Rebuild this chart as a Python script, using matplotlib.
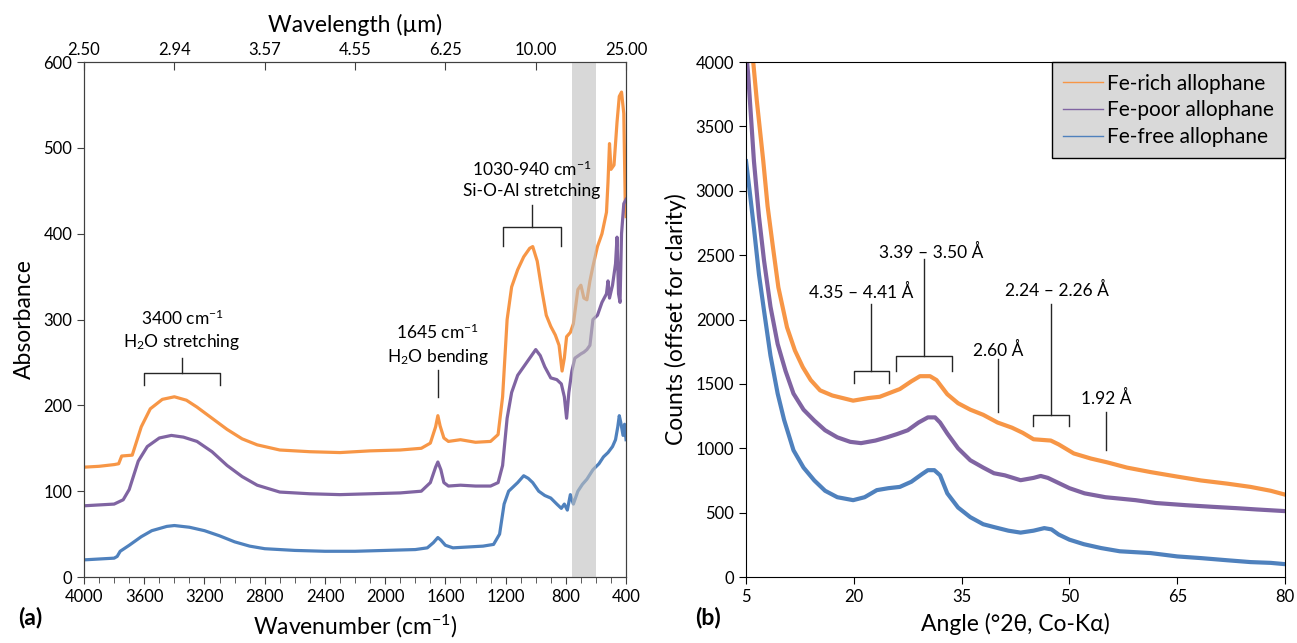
import numpy as np
import matplotlib.pyplot as plt

plt.rcParams['font.family'] = ['Lato', 'DejaVu Sans']
plt.rcParams['mathtext.fontset'] = 'custom'
plt.rcParams['mathtext.rm'] = 'Lato'
plt.rcParams['mathtext.it'] = 'Lato:italic'
plt.rcParams['mathtext.bf'] = 'Lato:bold'

# ---- (a) FTIR spectra: wavenumber (cm-1) / absorbance ----
wn_rich = [4000, 3900, 3800, 3770, 3750, 3680, 3620, 3560, 3480, 3400, 3320, 3250, 3150,
           3050, 2950, 2850, 2700, 2500, 2300, 2100, 1900, 1760, 1700, 1665, 1650, 1635,
           1610, 1580, 1500, 1400, 1300, 1250, 1220, 1190, 1160, 1120, 1080, 1040, 1020,
           990, 960, 930, 900, 870, 845, 825, 810, 795, 770, 750, 720, 700, 680, 660, 640,
           620, 590, 560, 530, 520, 510, 500, 480, 460, 445, 430, 415, 405, 400]
abs_rich = [128, 129, 131, 132, 141, 142, 175, 196, 207, 210, 206, 198, 185,
            172, 161, 154, 148, 146, 145, 147, 148, 150, 156, 175, 188, 176,
            162, 158, 160, 157, 158, 166, 210, 300, 338, 358, 373, 383, 385,
            368, 335, 305, 292, 282, 270, 240, 255, 280, 285, 295, 335, 340, 325, 323, 345,
            362, 385, 400, 425, 460, 505, 475, 480, 530, 560, 565, 540, 430, 420]

wn_poor = [4000, 3900, 3800, 3740, 3700, 3640, 3580, 3500, 3420, 3340, 3250, 3150, 3050,
           2950, 2850, 2700, 2500, 2300, 2100, 1900, 1760, 1700, 1665, 1650, 1630, 1610,
           1580, 1500, 1400, 1300, 1250, 1220, 1190, 1160, 1120, 1060, 1000, 970, 940, 900,
           860, 830, 810, 795, 780, 760, 740, 700, 680, 660, 640, 620, 590, 560, 530, 520,
           510, 490, 470, 460, 450, 440, 430, 415, 400]
abs_poor = [83, 84, 85, 90, 102, 135, 152, 162, 165, 163, 158, 146, 130,
            117, 107, 99, 97, 96, 97, 98, 100, 110, 128, 134, 125, 110,
            106, 107, 106, 106, 110, 130, 185, 215, 235, 250, 265, 258, 245, 232,
            230, 225, 210, 185, 215, 240, 255, 260, 262, 265, 270, 300, 305, 320, 330, 345,
            325, 340, 365, 396, 330, 320, 400, 435, 440]

wn_free = [4000, 3900, 3800, 3780, 3760, 3700, 3620, 3550, 3450, 3400, 3300, 3200, 3100,
           3000, 2900, 2800, 2600, 2400, 2200, 2000, 1800, 1720, 1680, 1650, 1630, 1600,
           1550, 1450, 1350, 1280, 1240, 1210, 1180, 1120, 1080, 1050, 1020, 980, 940, 900,
           860, 830, 810, 790, 770, 750, 720, 690, 660, 620, 580, 550, 520, 490, 470, 455,
           445, 435, 420, 410, 400]
abs_free = [20, 21, 22, 24, 30, 37, 47, 54, 59, 60, 58, 54, 48,
            41, 36, 33, 31, 30, 30, 31, 32, 34, 40, 46, 43, 37,
            34, 35, 36, 38, 50, 85, 100, 110, 118, 115, 110, 100, 95, 92,
            85, 80, 85, 78, 96, 85, 100, 108, 114, 125, 132, 140, 145, 152, 160, 175,
            188, 180, 165, 178, 160]

wn_ticks = [4000, 3600, 3200, 2800, 2400, 2000, 1600, 1200, 800, 400]
wl_ticks = [4000, 3400, 2800, 2200, 1600, 1000, 400]
band_lo, band_hi = 600, 760

# ---- (b) XRD patterns: angle (deg 2theta) / counts ----
tt_rich = [5.6, 6.0, 6.5, 7.4, 8.0, 8.75, 9.5, 10.7, 11.8, 12.9, 14.0, 15.3, 17.0, 19.9,
           22.0, 23.6, 25.0, 26.4, 28.0, 29.2, 30.6, 31.5, 33.0, 34.5, 36.2, 38.0, 40.0,
           42.0, 43.5, 45.0, 47.4, 48.5, 50.6, 53.0, 55.3, 58.0, 61.3, 65.0, 68.3, 72.0,
           75.2, 78.0, 80.0]
cnt_rich = [4400, 4000, 3700, 3230, 2880, 2560, 2250, 1940, 1760, 1630, 1530, 1450, 1410, 1370,
            1390, 1400, 1430, 1460, 1520, 1560, 1560, 1530, 1420, 1350, 1300, 1260, 1200,
            1160, 1120, 1070, 1060, 1030, 960, 920, 890, 850, 815, 780, 750, 725,
            700, 670, 640]

tt_poor = [5.0, 5.3, 6.1, 6.8, 7.5, 8.4, 9.4, 10.5, 11.6, 13.0, 14.5, 16.0, 17.7, 19.5,
           21.0, 23.0, 24.6, 26.0, 27.5, 29.0, 30.3, 31.3, 32.0, 33.0, 34.5, 36.2, 38.0,
           39.5, 41.0, 43.2, 45.0, 46.0, 47.0, 48.5, 50.0, 52.1, 55.0, 59.2, 62.0, 66.2,
           70.0, 73.2, 76.0, 80.0]
cnt_poor = [4100, 3900, 3230, 2800, 2460, 2100, 1810, 1600, 1425, 1300, 1215, 1140, 1085, 1050,
            1040, 1060, 1085, 1110, 1140, 1200, 1240, 1240, 1200, 1115, 1000, 907, 850,
            806, 790, 752, 770, 785, 770, 730, 690, 650, 620, 597, 575, 558,
            545, 535, 525, 512]

tt_free = [5.0, 5.5, 6.1, 6.8, 7.5, 8.4, 9.4, 10.3, 11.6, 13.0, 14.5, 16.0, 17.7, 19.9,
           21.5, 23.2, 24.8, 26.4, 28.0, 29.5, 30.3, 31.2, 32.0, 33.0, 34.5, 36.2, 38.0,
           39.5, 41.5, 43.2, 45.0, 46.5, 47.5, 48.5, 50.0, 52.0, 54.4, 57.0, 61.3, 65.0,
           68.3, 72.0, 75.2, 78.0, 80.0]
cnt_free = [3230, 3000, 2710, 2350, 2070, 1720, 1425, 1220, 985, 850, 750, 670, 620, 597,
            620, 675, 690, 700, 740, 800, 830, 830, 790, 650, 540, 465, 410,
            388, 360, 345, 360, 380, 370, 330, 290, 255, 225, 200, 186, 160,
            147, 130, 116, 110, 100]

labels = ['Fe-rich allophane', 'Fe-poor allophane', 'Fe-free allophane']
colors = ['#F79646', '#8064A2', '#4F81BD']

fig = plt.figure(figsize=(12.97, 6.43), dpi=100)
ax = fig.add_axes([0.0648, 0.1026, 0.4179, 0.8009])
bx = fig.add_axes([0.5752, 0.1026, 0.4156, 0.8009])

LAB = 16.5
ANN = 12.5


def bracket(a, x0, x1, y, drop, xc, top, lw=1.0):
    a.plot([x0, x0, x1, x1], [y - drop, y, y, y - drop], color='#262626', lw=lw, zorder=4)
    a.plot([xc, xc], [y, top], color='#262626', lw=lw, zorder=4)


# ---------------- panel (a) ----------------
ax.plot(wn_rich, abs_rich, color=colors[0], lw=2.3)
ax.plot(wn_poor, abs_poor, color=colors[1], lw=2.3)
ax.plot(wn_free, abs_free, color=colors[2], lw=2.3)
ax.axvspan(band_lo, band_hi, facecolor='#bfbfbf', alpha=0.6, lw=0, zorder=3)

ax.set_xlim(4000, 400)
ax.set_ylim(0, 600)
ax.set_xticks(wn_ticks)
ax.set_xticks(np.arange(400, 4001, 100), minor=True)
ax.set_yticks(np.arange(0, 601, 100))
ax.tick_params(axis='both', labelsize=12, direction='out', length=5, color='#404040')
ax.tick_params(axis='x', which='minor', direction='out', length=4, color='#404040')
ax.set_xlabel('Wavenumber (cm$^{-1}$)', fontsize=LAB, labelpad=6)
ax.set_ylabel('Absorbance', fontsize=LAB, labelpad=6)
for s in ax.spines.values():
    s.set_color('#404040')

top = ax.twiny()
top.set_xlim(ax.get_xlim())
top.set_xticks(wl_ticks)
top.set_xticklabels(['%.2f' % (10000.0 / w) for w in wl_ticks])
top.tick_params(axis='x', labelsize=12, direction='in', length=6, color='#404040', pad=3)
top.set_xlabel('Wavelength (\u00b5m)', fontsize=LAB, labelpad=7)
for s in top.spines.values():
    s.set_color('#404040')

bracket(ax, 3600, 3100, 238, 14, 3350, 255)
ax.text(3350, 262, '3400 cm$^{-1}$\nH$_2$O stretching', ha='center', va='bottom',
        fontsize=ANN, linespacing=1.3)
ax.plot([1650, 1650], [210, 241], color='#262626', lw=1.0)
ax.text(1650, 245, '1645 cm$^{-1}$\nH$_2$O bending', ha='center', va='bottom',
        fontsize=ANN, linespacing=1.3)
bracket(ax, 1220, 830, 408, 22, 1025, 434)
ax.text(1025, 440, '1030-940 cm$^{-1}$\nSi-O-Al stretching', ha='center', va='bottom',
        fontsize=ANN, linespacing=1.3)

fig.text(18 / 1297, 1 - 617 / 643, '(a)', fontsize=16.5, fontweight='bold', va='center')

# ---------------- panel (b) ----------------
bx.plot(tt_rich, cnt_rich, color=colors[0], lw=3.0, label=labels[0])
bx.plot(tt_poor, cnt_poor, color=colors[1], lw=3.0, label=labels[1])
bx.plot(tt_free, cnt_free, color=colors[2], lw=3.0, label=labels[2])

bx.set_xlim(5, 80)
bx.set_ylim(0, 4000)
bx.set_xticks(np.arange(5, 81, 15))
bx.set_yticks(np.arange(0, 4001, 500))
bx.tick_params(axis='both', labelsize=12, direction='out', length=5)
bx.set_xlabel('Angle (\u00b02\u03b8, Co-K\u03b1)', fontsize=LAB, labelpad=6)
bx.set_ylabel('Counts (offset for clarity)', fontsize=LAB, labelpad=6)

bracket(bx, 20.0, 24.9, 1600, 90, 22.4, 2120)
bx.text(21.0, 2210, '4.35 \u2013 4.41 \u00c5', ha='center', va='center', fontsize=ANN)
bracket(bx, 25.8, 33.6, 1713, 110, 29.7, 2470)
bx.text(30.7, 2520, '3.39 \u2013 3.50 \u00c5', ha='center', va='center', fontsize=ANN)
bx.plot([40.1, 40.1], [1280, 1697], color='#262626', lw=1.0)
bx.text(40.1, 1760, '2.60 \u00c5', ha='center', va='center', fontsize=ANN)
bracket(bx, 44.9, 49.9, 1255, 85, 47.5, 2124)
bx.text(48.2, 2225, '2.24 \u2013 2.26 \u00c5', ha='center', va='center', fontsize=ANN)
bx.plot([55.1, 55.1], [985, 1279], color='#262626', lw=1.0)
bx.text(55.1, 1387, '1.92 \u00c5', ha='center', va='center', fontsize=ANN)

leg = bx.legend(loc='upper right', bbox_to_anchor=(1.0, 1.0), fontsize=15,
                frameon=True, fancybox=False, borderaxespad=0, handlelength=1.9,
                handletextpad=0.2, borderpad=0.55, labelspacing=0.32)
for h in leg.get_lines():
    h.set_linewidth(1.0)
leg.get_frame().set_facecolor('#d9d9d9')
leg.get_frame().set_edgecolor('black')
leg.get_frame().set_alpha(1)
leg.get_frame().set_linewidth(1.0)

fig.text(695 / 1297, 1 - 617 / 643, '(b)', fontsize=16.5, fontweight='bold', va='center')

fig.savefig('out.png', dpi=100)
